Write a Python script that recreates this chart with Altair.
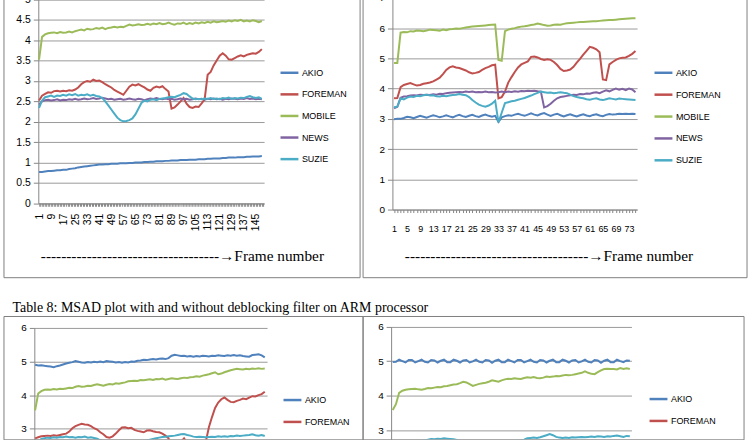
import altair as alt
import pandas as pd

SERIES = ["AKIO", "FOREMAN", "MOBILE", "NEWS", "SUZIE"]
COLORS = ["#4F81BD", "#C0504D", "#9BBB59", "#8064A2", "#4BACC6"]

FRAMES_A = list(range(1, 150, 2))   # 150-frame charts, every second frame
FRAMES_B = list(range(1, 76))       # 75-frame charts

CAPTION = "Table 8: MSAD plot with and without deblocking filter on ARM processor"
XTITLE_L = "-" * 35 + "\u2192Frame number"
XTITLE_R = "-" * 36 + "\u2192Frame number"

# ---------------- top-left (150 frames) ----------------
TL_AKIO = [0.77,0.77,0.78,0.79,0.79,0.80,0.81,0.81,0.82,0.82,
           0.84,0.85,0.86,0.88,0.89,0.90,0.91,0.92,0.93,0.94,
           0.95,0.95,0.96,0.96,0.97,0.97,0.97,0.98,0.98,0.98,
           0.99,0.99,1.00,1.00,1.00,1.01,1.01,1.02,1.02,1.03,
           1.03,1.03,1.04,1.04,1.05,1.05,1.05,1.06,1.06,1.06,
           1.07,1.07,1.07,1.08,1.08,1.08,1.09,1.09,1.10,1.10,
           1.10,1.11,1.11,1.12,1.12,1.12,1.13,1.13,1.13,1.14,
           1.14,1.15,1.15,1.15,1.16]
TL_FOREMAN = [2.52,2.64,2.68,2.72,2.71,2.75,2.76,2.74,2.76,2.75,
              2.77,2.76,2.79,2.84,2.92,2.97,3.00,2.98,3.03,3.00,
              3.01,2.97,2.92,2.88,2.84,2.78,2.74,2.70,2.66,2.76,
              2.86,2.91,2.89,2.92,2.88,2.84,2.79,2.76,2.83,2.86,
              2.84,2.87,2.80,2.74,2.32,2.35,2.42,2.50,2.58,2.44,
              2.36,2.34,2.37,2.36,2.45,2.55,3.15,3.22,3.38,3.50,
              3.62,3.68,3.62,3.53,3.52,3.56,3.60,3.63,3.60,3.64,
              3.66,3.68,3.67,3.71,3.78]
TL_MOBILE = [3.52,4.08,4.14,4.17,4.18,4.19,4.17,4.20,4.18,4.19,
             4.21,4.19,4.22,4.24,4.26,4.24,4.28,4.26,4.27,4.30,
             4.28,4.31,4.27,4.30,4.31,4.33,4.31,4.33,4.32,4.35,
             4.38,4.36,4.37,4.39,4.37,4.38,4.40,4.38,4.41,4.39,
             4.42,4.39,4.40,4.43,4.40,4.38,4.41,4.40,4.43,4.39,
             4.42,4.40,4.43,4.41,4.44,4.42,4.45,4.43,4.46,4.44,
             4.45,4.47,4.45,4.48,4.46,4.49,4.47,4.50,4.46,4.48,
             4.46,4.49,4.47,4.44,4.47]
TL_NEWS = [2.42,2.50,2.53,2.54,2.52,2.53,2.55,2.52,2.54,2.53,
           2.55,2.54,2.56,2.54,2.55,2.57,2.55,2.56,2.58,2.56,
           2.57,2.59,2.57,2.55,2.56,2.54,2.55,2.56,2.54,2.55,
           2.57,2.55,2.54,2.56,2.55,2.53,2.55,2.57,2.56,2.58,
           2.56,2.55,2.57,2.55,2.56,2.54,2.55,2.57,2.55,2.56,
           2.54,2.55,2.57,2.55,2.56,2.54,2.56,2.55,2.57,2.55,
           2.56,2.54,2.56,2.55,2.57,2.56,2.55,2.57,2.56,2.58,
           2.56,2.57,2.55,2.56,2.55]
TL_SUZIE = [2.34,2.52,2.60,2.62,2.64,2.61,2.64,2.63,2.66,2.64,
            2.67,2.65,2.68,2.64,2.66,2.65,2.67,2.64,2.66,2.63,
            2.62,2.58,2.50,2.40,2.30,2.20,2.10,2.04,2.01,2.02,
            2.04,2.08,2.18,2.32,2.46,2.52,2.50,2.54,2.55,2.53,
            2.56,2.57,2.58,2.60,2.61,2.60,2.63,2.66,2.70,2.68,
            2.62,2.57,2.55,2.56,2.55,2.57,2.56,2.58,2.56,2.57,
            2.55,2.58,2.57,2.59,2.56,2.58,2.57,2.59,2.58,2.61,
            2.63,2.60,2.58,2.60,2.56]

# ---------------- top-right (75 frames) ----------------
TR_AKIO = [2.99,3.00,3.00,3.03,3.07,3.05,3.02,3.06,3.10,3.07,
           3.04,3.08,3.12,3.09,3.05,3.08,3.12,3.08,3.05,3.10,
           3.13,3.09,3.06,3.10,3.13,3.09,3.06,3.11,3.14,3.10,
           3.07,3.10,2.90,3.05,3.09,3.12,3.10,3.14,3.17,3.13,
           3.10,3.14,3.18,3.14,3.11,3.16,3.19,3.14,3.10,3.14,
           3.17,3.12,3.08,3.12,3.15,3.11,3.08,3.12,3.15,3.11,
           3.09,3.13,3.15,3.11,3.09,3.13,3.16,3.14,3.15,3.17,
           3.16,3.17,3.16,3.17,3.16]
TR_FOREMAN = [3.68,3.69,4.05,4.12,4.15,4.18,4.14,4.10,4.12,4.16,
              4.18,4.20,4.24,4.30,4.36,4.48,4.62,4.70,4.74,4.70,
              4.68,4.64,4.60,4.54,4.50,4.52,4.55,4.62,4.68,4.72,
              4.77,4.79,3.68,3.72,3.90,4.20,4.38,4.55,4.70,4.80,
              4.85,4.90,5.05,5.06,5.03,4.98,4.95,4.97,4.95,4.88,
              4.78,4.65,4.58,4.60,4.63,4.72,4.86,4.98,5.12,5.25,
              5.38,5.35,5.30,5.20,4.30,4.28,4.80,4.88,4.95,5.00,
              5.02,5.03,5.08,5.15,5.24]
TR_MOBILE = [4.85,4.85,5.85,5.87,5.86,5.90,5.89,5.92,5.91,5.90,
             5.92,5.95,5.94,5.93,5.91,5.95,5.93,5.96,5.97,5.99,
             5.98,6.00,6.02,6.04,6.05,6.06,6.07,6.08,6.09,6.10,
             6.11,6.12,4.95,4.92,5.90,5.95,5.98,6.00,6.03,6.05,
             6.06,6.08,6.10,6.12,6.15,6.13,6.10,6.08,6.09,6.11,
             6.12,6.11,6.14,6.16,6.17,6.18,6.19,6.20,6.20,6.21,
             6.22,6.23,6.23,6.24,6.25,6.26,6.27,6.27,6.28,6.29,
             6.30,6.31,6.32,6.33,6.33]
TR_NEWS = [3.35,3.40,3.70,3.74,3.75,3.77,3.78,3.77,3.80,3.79,
           3.80,3.79,3.81,3.80,3.83,3.82,3.85,3.86,3.87,3.88,
           3.89,3.88,3.90,3.89,3.90,3.88,3.89,3.88,3.90,3.88,
           3.89,3.87,3.88,3.90,3.88,3.90,3.89,3.91,3.90,3.92,
           3.91,3.93,3.92,3.93,3.91,3.90,3.38,3.42,3.50,3.60,
           3.68,3.72,3.74,3.76,3.78,3.80,3.79,3.82,3.81,3.84,
           3.83,3.86,3.88,3.85,3.90,3.94,3.91,3.96,4.00,3.96,
           3.99,3.95,4.00,3.97,3.88]
TR_SUZIE = [3.38,3.40,3.68,3.64,3.70,3.74,3.72,3.76,3.75,3.78,
            3.80,3.77,3.78,3.75,3.74,3.76,3.75,3.77,3.79,3.80,
            3.82,3.80,3.78,3.72,3.62,3.54,3.47,3.43,3.40,3.44,
            3.50,3.60,2.88,3.20,3.52,3.55,3.58,3.60,3.63,3.66,
            3.69,3.73,3.77,3.82,3.86,3.90,3.88,3.86,3.87,3.85,
            3.86,3.88,3.86,3.85,3.80,3.75,3.72,3.70,3.68,3.65,
            3.63,3.66,3.68,3.64,3.62,3.65,3.68,3.66,3.64,3.67,
            3.66,3.65,3.64,3.63,3.62]

# ---------------- bottom-left (150 frames) ----------------
BL_AKIO = [4.90,4.88,4.89,4.87,4.86,4.85,4.83,4.86,4.88,4.91,
           4.94,4.96,4.98,5.01,4.99,4.97,4.96,4.98,4.97,4.99,
           4.98,5.00,4.98,5.01,5.00,4.99,4.97,4.98,4.96,4.98,
           4.97,5.00,4.99,5.02,5.03,5.05,5.04,5.06,5.07,5.06,
           5.08,5.09,5.07,5.10,5.17,5.20,5.18,5.16,5.17,5.15,
           5.16,5.14,5.16,5.15,5.17,5.16,5.15,5.17,5.16,5.18,
           5.17,5.16,5.18,5.17,5.19,5.17,5.18,5.16,5.15,5.14,
           5.19,5.20,5.21,5.18,5.12]
BL_FOREMAN = [2.72,2.75,2.78,2.79,2.80,2.79,2.81,2.80,2.82,2.84,
              2.86,2.92,3.02,3.08,3.12,3.15,3.13,3.12,3.08,3.02,
              2.98,2.90,2.84,2.76,2.74,2.78,2.86,2.96,3.04,3.05,
              3.02,3.03,2.97,2.94,2.92,2.90,2.95,2.96,2.93,2.91,
              2.90,2.86,2.80,2.72,2.45,2.48,2.55,2.62,2.72,2.58,
              2.50,2.48,2.50,2.49,2.55,2.62,3.05,3.35,3.62,3.78,
              3.88,3.93,3.86,3.80,3.79,3.83,3.86,3.90,3.88,3.93,
              3.97,3.96,4.00,4.03,4.10]
BL_MOBILE = [3.55,4.05,4.12,4.16,4.17,4.16,4.18,4.17,4.19,4.18,
             4.20,4.22,4.21,4.25,4.27,4.25,4.26,4.28,4.27,4.30,
             4.32,4.30,4.28,4.31,4.33,4.32,4.35,4.34,4.36,4.38,
             4.41,4.42,4.43,4.42,4.45,4.44,4.46,4.47,4.45,4.48,
             4.47,4.49,4.46,4.48,4.50,4.49,4.48,4.50,4.52,4.51,
             4.53,4.54,4.56,4.55,4.58,4.60,4.62,4.65,4.68,4.62,
             4.64,4.68,4.71,4.74,4.76,4.78,4.77,4.76,4.78,4.77,
             4.79,4.78,4.80,4.78,4.79]
BL_NEWS = [2.48,2.56,2.60,2.61,2.59,2.60,2.62,2.59,2.61,2.60,
           2.62,2.61,2.63,2.61,2.62,2.64,2.62,2.63,2.65,2.63,
           2.64,2.66,2.64,2.62,2.63,2.61,2.62,2.63,2.61,2.62,
           2.64,2.62,2.61,2.63,2.62,2.60,2.62,2.64,2.63,2.65,
           2.63,2.62,2.64,2.62,2.63,2.61,2.62,2.64,2.62,2.63,
           2.61,2.62,2.64,2.62,2.63,2.61,2.63,2.62,2.64,2.62,
           2.63,2.61,2.63,2.62,2.64,2.63,2.62,2.64,2.63,2.65,
           2.63,2.64,2.62,2.63,2.62]
BL_SUZIE = [2.45,2.62,2.70,2.72,2.74,2.73,2.75,2.74,2.76,2.75,
            2.77,2.75,2.76,2.74,2.76,2.75,2.77,2.74,2.75,2.73,
            2.71,2.66,2.58,2.48,2.38,2.28,2.20,2.14,2.12,2.13,
            2.16,2.22,2.32,2.45,2.58,2.64,2.66,2.68,2.70,2.72,
            2.74,2.76,2.77,2.78,2.79,2.80,2.82,2.84,2.85,2.82,
            2.80,2.77,2.76,2.77,2.76,2.75,2.76,2.77,2.76,2.78,
            2.77,2.78,2.77,2.79,2.78,2.80,2.79,2.80,2.81,2.82,
            2.84,2.81,2.80,2.82,2.79]

# ---------------- bottom-right (75 frames) ----------------
BR_AKIO = [4.97,4.98,5.04,5.00,4.96,5.03,5.03,4.96,5.00,5.04,
           4.98,4.96,5.03,5.02,4.96,5.01,5.04,4.97,4.97,5.04,
           5.01,4.96,5.02,5.03,4.96,4.99,5.04,4.98,4.96,5.03,
           5.02,4.95,5.01,5.04,4.97,4.97,5.04,5.00,4.96,5.03,
           5.03,4.96,5.00,5.04,4.98,4.96,5.03,5.02,4.96,5.01,
           5.04,4.97,4.97,5.04,5.01,4.96,5.02,5.03,4.96,4.99,
           5.04,4.98,4.96,5.03,5.02,4.95,5.01,5.04,4.97,4.97,
           5.04,5.00,4.97,5.02,5.01]
BR_FOREMAN = [2.30,2.35,2.40,2.42,2.44,2.43,2.45,2.46,2.45,2.47,
              2.48,2.47,2.50,2.52,2.55,2.58,2.60,2.62,2.61,2.60,
              2.58,2.56,2.55,2.52,2.50,2.48,2.47,2.46,2.48,2.50,
              2.52,2.53,2.50,2.48,2.46,2.45,2.44,2.42,2.40,2.38,
              2.36,2.35,2.34,2.36,2.38,2.40,2.42,2.45,2.50,2.58,
              2.60,2.62,2.63,2.64,2.62,2.60,2.62,2.63,2.64,2.65,
              2.64,2.65,2.63,2.64,2.65,2.66,2.64,2.65,2.66,2.65,
              2.64,2.66,2.65,2.66,2.67]
BR_MOBILE = [3.58,3.75,4.08,4.14,4.17,4.18,4.19,4.20,4.18,4.17,
             4.19,4.22,4.21,4.23,4.25,4.24,4.27,4.28,4.30,4.32,
             4.33,4.36,4.40,4.38,4.33,4.28,4.31,4.34,4.36,4.37,
             4.40,4.44,4.42,4.40,4.44,4.47,4.49,4.48,4.50,4.49,
             4.48,4.51,4.53,4.52,4.54,4.51,4.50,4.52,4.55,4.54,
             4.55,4.57,4.56,4.58,4.60,4.59,4.60,4.62,4.64,4.66,
             4.70,4.66,4.63,4.62,4.68,4.73,4.77,4.78,4.77,4.77,
             4.76,4.80,4.77,4.79,4.77]
BR_NEWS = [2.40,2.45,2.48,2.50,2.49,2.51,2.50,2.52,2.51,2.53,
           2.52,2.54,2.53,2.52,2.54,2.53,2.55,2.54,2.53,2.55,
           2.54,2.56,2.55,2.54,2.56,2.55,2.54,2.56,2.55,2.57,
           2.56,2.55,2.57,2.56,2.55,2.57,2.56,2.58,2.57,2.56,
           2.58,2.57,2.56,2.52,2.48,2.50,2.53,2.55,2.56,2.57,
           2.58,2.57,2.58,2.59,2.58,2.60,2.59,2.60,2.61,2.60,
           2.61,2.62,2.61,2.62,2.63,2.62,2.63,2.64,2.63,2.64,
           2.65,2.64,2.65,2.64,2.63]
BR_SUZIE = [2.50,2.55,2.60,2.62,2.64,2.65,2.66,2.67,2.68,2.69,
            2.70,2.72,2.74,2.73,2.75,2.74,2.76,2.75,2.74,2.73,
            2.71,2.68,2.64,2.60,2.58,2.56,2.55,2.54,2.55,2.56,
            2.57,2.58,2.57,2.58,2.60,2.61,2.63,2.64,2.66,2.68,
            2.70,2.72,2.76,2.77,2.78,2.77,2.79,2.82,2.85,2.88,
            2.85,2.80,2.78,2.77,2.78,2.77,2.79,2.78,2.79,2.80,
            2.79,2.80,2.81,2.80,2.82,2.81,2.80,2.82,2.81,2.83,
            2.84,2.82,2.80,2.83,2.82]

SANS = "Liberation Sans"
NARROW = "Liberation Sans Narrow, Liberation Sans"
SERIF = "Liberation Serif"
GRID = "#9a9a9a"
AXC = "#868686"


def frame_df(frames, lists):
    rows = []
    for name, vals in zip(SERIES, lists):
        assert len(vals) == len(frames), (name, len(vals))
        for f, v in zip(frames, vals):
            rows.append({"frame": f, "series": name, "value": v})
    return pd.DataFrame(rows)


def cell(df, w, h, xdom, xr, ydom, yr, yvals, yfs, xaxis, lx, ly, rowpad, lvals=None):
    lkw = dict(orient="none", legendX=lx, legendY=ly, title=None,
               symbolType="stroke", symbolSize=324, symbolStrokeWidth=2.5,
               labelFont=NARROW, labelFontSize=9, labelColor="#000",
               rowPadding=rowpad, padding=0, labelOffset=2, labelLimit=300)
    if lvals is not None:
        lkw["values"] = lvals
    yaxis = alt.Axis(values=yvals, format="~g", title=None, grid=True,
                     gridColor=GRID, gridWidth=1, domainColor=AXC, tickColor=AXC,
                     tickSize=5, labelPadding=3, labelFont=SANS, labelFontSize=yfs,
                     labelColor="#000", labelFlush=False, labelOverlap=False,
                     offset=-xr[0])
    return alt.Chart(df).mark_line(clip=True, strokeWidth=2).encode(
        x=alt.X("frame:Q", scale=alt.Scale(domain=xdom, range=xr, nice=False, zero=False),
                axis=xaxis),
        y=alt.Y("value:Q", scale=alt.Scale(domain=ydom, range=yr, nice=False, zero=False),
                axis=yaxis),
        color=alt.Color("series:N", scale=alt.Scale(domain=SERIES, range=COLORS),
                        legend=alt.Legend(**lkw)),
    ).properties(width=w, height=h)


TOP_H = 287
xaxis_tl = alt.Axis(values=list(range(1, 151)),
                    labelExpr="(datum.value - 1) % 8 == 0 ? datum.value : ''",
                    labelAngle=270, labelAlign="right", labelBaseline="middle",
                    labelPadding=7, labelFont=SANS, labelFontSize=10.5, labelColor="#000",
                    labelOverlap=False, labelFlush=False, tickSize=3, tickColor=AXC,
                    domainColor=AXC, grid=False,
                    title=XTITLE_L, titleFont=SERIF, titleFontSize=15.4,
                    titleFontWeight="normal", titleColor="#000", titleX=37, titleY=58,
                    titleAlign="left", titleBaseline="alphabetic", titleLimit=1000,
                    offset=212.7 - TOP_H)
xaxis_tr = alt.Axis(values=list(range(1, 76)),
                    labelExpr="(datum.value - 1) % 4 == 0 ? datum.value : ''",
                    labelAngle=0, labelAlign="center", labelBaseline="top",
                    labelPadding=12, labelFont=SANS, labelFontSize=9, labelColor="#000",
                    labelOverlap=False, labelFlush=False, tickSize=3, tickColor=AXC,
                    domainColor=AXC, grid=False,
                    title=XTITLE_R, titleFont=SERIF, titleFontSize=15.4,
                    titleFontWeight="normal", titleColor="#000", titleX=42, titleY=51.7,
                    titleAlign="left", titleBaseline="alphabetic", titleLimit=1000,
                    offset=219 - TOP_H)

tl = cell(frame_df(FRAMES_A, [TL_AKIO, TL_FOREMAN, TL_MOBILE, TL_NEWS, TL_SUZIE]),
          358, TOP_H, [0.5, 150.5], [35, 262], [0, 5], [212.7, 7.7],
          [0, 0.5, 1, 1.5, 2, 2.5, 3, 3.5, 4, 4.5, 5], 10.5, xaxis_tl, 277, 71, 5.7)
tr = cell(frame_df(FRAMES_B, [TR_AKIO, TR_FOREMAN, TR_MOBILE, TR_NEWS, TR_SUZIE]),
          386, TOP_H, [0.5, 75.5], [30, 276], [0, 7], [219, 6.2],
          [0, 1, 2, 3, 4, 5, 6, 7], 10, xaxis_tr, 292, 71, 6)

BOT_H = 124
bl = cell(frame_df(FRAMES_A, [BL_AKIO, BL_FOREMAN, BL_MOBILE, BL_NEWS, BL_SUZIE]),
          361, BOT_H, [0.5, 150.5], [31, 265], [2.69, 6], [BOT_H, 11.8],
          [3, 4, 5, 6], 10, None, 280, 74, 6, ["AKIO", "FOREMAN"]).properties(
    title=alt.TitleParams(CAPTION, anchor="start", font=SERIF, fontSize=14,
                          fontWeight="normal", color="#000", offset=3, dx=9, dy=12.5,
                          baseline="alphabetic", frame="group"))
br = cell(frame_df(FRAMES_B, [BR_AKIO, BR_FOREMAN, BR_MOBILE, BR_NEWS, BR_SUZIE]),
          383, BOT_H, [0.5, 75.5], [28.7, 270.3], [2.73, 6], [BOT_H, 10.7],
          [3, 4, 5, 6], 10, None, 287, 73, 6, ["AKIO", "FOREMAN"])

chart = alt.concat(tl, tr, bl, br, columns=2, bounds="flush", align="none",
                   spacing={"row": 39, "column": 0}).resolve_scale(
    color="independent", x="independent", y="independent").properties(
    padding={"left": 2.5, "top": -10.5, "right": 4.5, "bottom": -0.5},
    background="white",
).configure_view(stroke="#7f7f7f", strokeWidth=1)

chart.save("out.html", embed_options={"renderer": "svg", "actions": False})
